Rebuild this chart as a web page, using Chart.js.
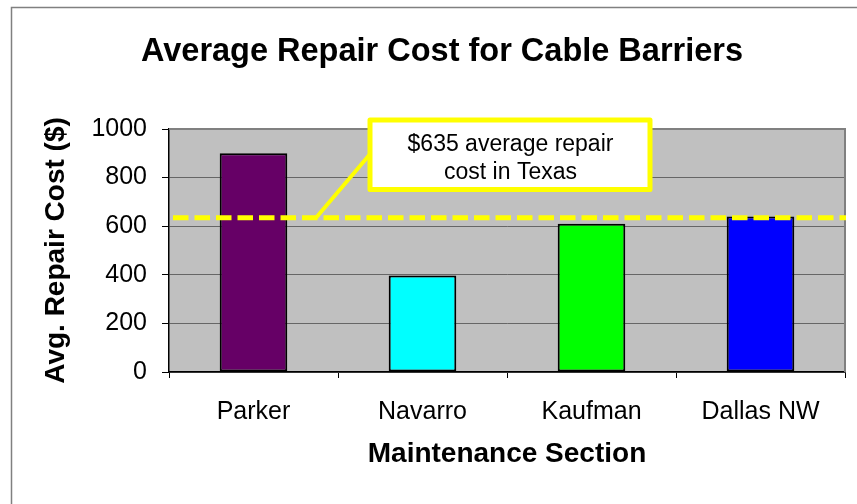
<!DOCTYPE html>
<html>
<head>
<meta charset="utf-8">
<script src="https://cdn.jsdelivr.net/npm/chart.js@4/dist/chart.umd.min.js"></script>
<style>
  html, body { margin: 0; padding: 0; background: #ffffff; }
  #wrap { width: 857px; height: 504px; }
</style>
</head>
<body>
<div id="wrap"><canvas id="c" width="857" height="504"></canvas></div>
<script>
// ---- data ----
const categories = ['Parker', 'Navarro', 'Kaufman', 'Dallas NW'];
const repairCost = [900, 397, 610, 640];
const barColors = ['#660066', '#00FFFF', '#00FF00', '#0000FF'];
const texasAverage = 635;
const yTickValues = [0, 200, 400, 600, 800, 1000];
const calloutLines = ['$635 average repair', 'cost in Texas'];
const chartTitle = 'Average Repair Cost for Cable Barriers';
const xTitle = 'Maintenance Section';
const yTitle = 'Avg. Repair Cost ($)';

const FONT = '"Liberation Sans", Arial, sans-serif';

const decorPlugin = {
  id: 'decor',
  beforeDraw(chart) {
    const { ctx, chartArea: a } = chart;
    ctx.save();
    ctx.fillStyle = '#C0C0C0';
    ctx.fillRect(a.left, a.top, a.right - a.left, a.bottom - a.top);
    // outer frame
    ctx.strokeStyle = '#808080';
    ctx.lineWidth = 1.5;
    ctx.beginPath();
    ctx.moveTo(11.5, 504);
    ctx.lineTo(11.5, 7.5);
    ctx.lineTo(857, 7.5);
    ctx.stroke();
    ctx.restore();
  },
  afterDatasetsDraw(chart) {
    const { ctx, chartArea: a, scales } = chart;
    const yAvg = scales.y.getPixelForValue(texasAverage);
    ctx.save();
    // plot top/right border
    ctx.strokeStyle = '#808080';
    ctx.lineWidth = 2;
    ctx.beginPath();
    ctx.moveTo(a.left, a.top);
    ctx.lineTo(a.right, a.top);
    ctx.lineTo(a.right, a.bottom);
    ctx.stroke();
    // dashed average line
    ctx.strokeStyle = '#FFFF00';
    ctx.lineWidth = 5;
    ctx.setLineDash([15.5, 6]);
    ctx.beginPath();
    ctx.moveTo(a.left + 4, yAvg);
    ctx.lineTo(a.right + 1, yAvg);
    ctx.stroke();
    ctx.setLineDash([]);
    // leader line
    const ax = scales.x.getPixelForValue(0.37);
    ctx.lineWidth = 4;
    ctx.beginPath();
    ctx.moveTo(ax, yAvg);
    ctx.lineTo(371, 153);
    ctx.stroke();
    // callout box
    ctx.fillStyle = '#ffffff';
    ctx.lineJoin = 'round';
    ctx.lineWidth = 5;
    ctx.fillRect(370, 120, 280, 69.5);
    ctx.strokeRect(370, 120, 280, 69.5);
    ctx.fillStyle = '#000000';
    ctx.font = '23px ' + FONT;
    ctx.textAlign = 'center';
    ctx.textBaseline = 'alphabetic';
    ctx.fillText(calloutLines[0], 510.5, 150.5);
    ctx.fillText(calloutLines[1], 510.5, 178.5);
    ctx.restore();
  }
};

new Chart(document.getElementById('c'), {
  type: 'bar',
  data: {
    labels: categories,
    datasets: [{
      data: repairCost,
      backgroundColor: barColors,
      borderColor: '#000000',
      borderWidth: 2,
      borderSkipped: false,
      barPercentage: 0.4,
      categoryPercentage: 1.0
    }]
  },
  options: {
    responsive: false,
    animation: false,
    events: [],
    layout: { padding: { left: 39, right: 12, top: 0, bottom: 0 } },
    plugins: {
      legend: { display: false },
      tooltip: { enabled: false },
      title: {
        display: true,
        text: chartTitle,
        color: '#000000',
        font: { family: FONT, size: 32.5, weight: 'bold', lineHeight: 1.2 },
        padding: { top: 32.5, bottom: 57.5 }
      }
    },
    scales: {
      x: {
        grid: { display: true, drawOnChartArea: false, drawTicks: true, tickLength: 6, tickColor: '#000000', offset: true },
        border: { display: true, color: '#000000', width: 1.5 },
        ticks: { color: '#000000', padding: 19, font: { family: FONT, size: 25 }, maxRotation: 0, autoSkip: false },
        title: { display: true, text: xTitle, color: '#000000', font: { family: FONT, size: 28, weight: 'bold', lineHeight: 1.2 }, padding: { top: 0, bottom: 33 } },
        afterFit(scale) { scale.height = 132; }
      },
      y: {
        min: 0,
        max: 1000,
        afterBuildTicks(scale) { scale.ticks = yTickValues.map(v => ({ value: v })); },
        grid: { color: '#666666', lineWidth: 1, drawTicks: true, tickLength: 7, tickColor: '#000000' },
        border: { display: true, color: '#000000', width: 1.5 },
        ticks: { color: '#000000', padding: 15, font: { family: FONT, size: 25 }, callback: (v) => String(v) },
        title: { display: true, text: yTitle, color: '#000000', font: { family: FONT, size: 28, weight: 'bold', lineHeight: 1.2 }, padding: { top: 0, bottom: 0 } },
        afterFit(scale) { scale.width = 130; }
      }
    }
  },
  plugins: [decorPlugin]
});
</script>
</body>
</html>
